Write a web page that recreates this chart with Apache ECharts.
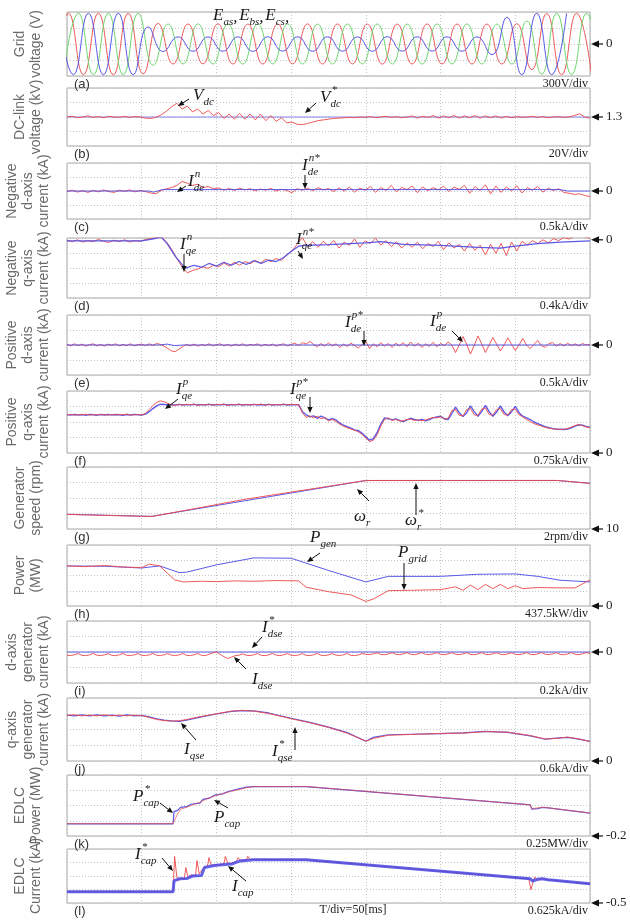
<!DOCTYPE html>
<html><head><meta charset="utf-8">
<script src="https://cdn.jsdelivr.net/npm/echarts@6/dist/echarts.min.js"></script>
<style>html,body{margin:0;padding:0;background:#fff}#c{width:630px;height:920px}</style>
</head><body><div id="c"></div>
<script>
// ---------------- DATA (time axis: 0..350 ms, 50 ms/div) ----------------
const timeTicksMs = [0, 50, 100, 150, 200, 250, 300, 350];

// (a) grid voltage [V]: successive half-cycle extrema, one every 10 ms
const gridVaT0 = -9, gridVbT0 = -2.33, gridVcT0 = -5.67;
const gridVa = [-575,575,-575,575,-575,575,-560,385,
  -375,375,-372,378,-375,374,-376,375,-373,377,-375,376,-374,375,-377,373,-375,376,-374,375,-376,374,-375,
  380,-480,570,-575,575,-575];
const gridVb = [-575,575,-575,575,-575,575,-400,
  375,-373,377,-375,374,-376,375,-374,377,-375,373,-376,375,-374,376,-375,373,-377,375,-374,376,-375,374,-375,
  430,-565,575,-575,575,-575];
const gridVc = [575,-575,575,-575,575,-575,320,-140,
  135,-137,134,-136,135,-138,136,-134,135,-137,136,-135,134,-136,137,-135,136,-134,135,-136,135,
  -200,500,-575,575,-575,575];

// (b) DC-link voltage [kV], sampled every 3.5 ms
const vdcRef = [[0,1.3],[350,1.3]];
const vdc = [1.3,1.301,1.299,1.3,1.3015,1.2995,1.3005,1.299,1.301,1.3,1.2995,1.301,1.2995,1.3005,1.3,
  1.2985,1.298,1.2995,1.303,1.308,1.314,1.319,1.311,1.315,1.307,1.311,1.304,1.309,1.302,1.306,1.298,1.304,1.297,1.305,1.297,1.304,1.296,1.304,1.295,1.302,1.294,1.299,
  1.292,1.293,1.290,1.2895,1.291,1.293,1.295,1.296,1.297,1.298,1.2985,1.299,1.2995,1.299,
  1.3,1.2995,1.3005,1.299,1.3,1.301,1.2995,1.3005,1.299,1.3,
  1.3015,1.2985,1.301,1.2995,1.302,1.2985,1.3015,1.299,1.302,1.2985,
  1.3015,1.299,1.302,1.2985,1.3015,1.299,1.3015,1.2985,1.301,1.299,
  1.3005,1.2995,1.3,1.301,1.2995,1.3005,1.299,1.3,1.3005,1.2995,
  1.3,1.302,1.3045,1.3,1.2985];

// (c) negative d-axis current [kA]
const idenRef = [[0,0],[55,0],[58,-0.04],[64,0.05],[330,0.05],[335,0],[350,0]];
const iden = [-0.02,0.03,-0.04,0.01,-0.05,0.02,-0.03,0.04,-0.02,-0.05,0.03,-0.01,0.04,-0.03,0.02,-0.02,
  -0.07,-0.1,0.02,0.08,0.12,0.2,0.34,0.28,0.2,0.24,0.12,0.16,0.08,0.11,0.03,
  0.09,0.02,0.1,0.04,0.08,0.01,0.07,0.03,0.09,0.0,0.06,0.02,-0.06,0.08,0.03,0.1,0.01,0.12,0.04,0.09,
  -0.02,0.11,0.0,0.14,-0.04,0.1,0.03,0.16,-0.05,0.12,0.02,0.2,-0.03,0.13,0.05,0.18,-0.06,0.15,0.01,0.12,
  0.04,0.17,-0.02,0.14,0.06,0.2,-0.08,0.16,0.02,0.22,-0.1,0.18,-0.05,0.15,0.0,0.19,-0.07,0.12,0.03,0.16,
  -0.04,0.1,0.02,0.08,-0.05,-0.08,-0.12,-0.1,-0.16,-0.2];

// (d) negative q-axis current [kA]
const iqenRef = [[0,-0.03],[50,-0.03],[57,0.02],[63,0.07],[67,-0.1],[72.5,-0.44],[77.5,-0.68],[80,-0.75],[85,-0.68],[90,-0.73],[95,-0.63],[100,-0.7],[105,-0.6],[110,-0.68],[115,-0.58],[120,-0.66],[125,-0.56],[130,-0.63],[135,-0.54],[140,-0.58],[145,-0.47],[150,-0.31],[155,-0.17],[160,-0.15],[175,-0.13],[200,-0.08],[210,-0.05],[225,-0.12],[250,-0.15],[275,-0.2],[290,-0.22],[300,-0.17],[315,-0.1],[330,-0.06],[350,-0.03]];
const iqen = [-0.01,-0.05,0.0,-0.06,-0.02,-0.05,0.01,-0.04,-0.07,-0.01,-0.05,0.0,-0.06,-0.02,-0.04,0.01,0.03,0.06,0.08,-0.05,
  -0.25,-0.5,-0.72,-0.88,-0.82,-0.78,-0.72,-0.76,-0.68,-0.72,-0.62,-0.7,-0.6,-0.68,-0.58,-0.64,-0.55,-0.62,-0.52,-0.58,-0.5,-0.55,-0.4,-0.3,-0.12,
  0.06,-0.18,-0.05,-0.2,-0.04,-0.16,-0.02,-0.22,-0.06,-0.15,0.02,-0.2,-0.03,-0.1,0.04,-0.14,-0.02,-0.18,-0.05,-0.22,-0.08,-0.2,-0.06,-0.24,-0.1,-0.18,-0.04,-0.26,-0.08,-0.22,-0.12,-0.3,-0.1,-0.28,-0.14,
  -0.4,-0.12,-0.36,-0.1,-0.42,-0.06,-0.3,-0.04,-0.14,-0.02,-0.1,0.0,-0.08,0.03,-0.02,0.06,0.02,0.1,0.16,0.08,0.04];

// (e) positive d-axis current [kA], sampled every 2.5 ms
const idepRef = [[0,0],[62,0],[67,0.03],[72,-0.02],[78,0],[350,0]];
const idep = [0.02,-0.03,0.04,-0.02,0.03,-0.04,0.01,0.04,-0.03,0.02,-0.04,0.03,-0.01,0.04,-0.03,0.02,-0.02,0.04,-0.03,0.01,0.03,-0.02,0.04,-0.01,0.05,0.02,
  -0.04,-0.12,-0.2,-0.22,-0.14,-0.05,0.02,-0.03,0.03,-0.04,0.02,-0.02,0.04,-0.03,0.01,
  0.04,-0.03,0.02,-0.04,0.03,-0.02,0.04,-0.03,0.02,-0.01,0.04,-0.04,0.02,-0.02,0.03,-0.04,0.01,0.04,-0.03,0.02,
  0.06,-0.02,0.08,0.03,0.12,0.02,-0.06,0.05,-0.04,0.07,-0.03,0.04,-0.08,0.03,-0.05,0.06,-0.02,-0.1,0.02,0.12,-0.12,0.04,-0.06,0.08,-0.04,0.05,-0.08,0.06,-0.03,0.08,-0.06,0.1,-0.04,0.06,-0.08,0.04,-0.05,0.09,-0.06,0.05,-0.02,
  0.1,0.0,-0.25,0.0,0.28,0.02,-0.3,-0.02,0.3,0.04,-0.25,0.0,0.25,0.03,-0.2,0.0,0.24,0.02,-0.18,0.0,0.22,0.0,-0.12,0.02,0.15,-0.02,-0.08,0.05,0.08,-0.04,0.05,-0.03,0.06,-0.02,0.04,-0.03,0.05,0.0,0.02];

// (f) positive q-axis current [kA], sampled every 2.5 ms
const iqepRef = [1.86,1.83,1.87,1.84,1.86,1.82,1.87,1.85,1.83,1.86,1.84,1.87,1.83,1.86,1.85,1.82,1.86,1.84,1.87,1.85,1.84,
  1.88,2.0,2.15,2.28,2.36,2.35,2.32,2.34,2.33,2.35,
  2.32,2.34,2.33,2.35,2.32,2.34,2.33,2.35,2.32,2.34,2.33,2.35,2.32,2.34,2.33,2.35,2.32,2.34,2.33,2.35,2.32,2.34,2.33,2.35,2.32,2.34,2.33,2.35,2.32,2.34,2.33,2.34,
  2.0,1.85,1.75,1.8,1.68,1.78,1.7,1.6,1.66,1.6,1.45,1.35,1.28,1.2,1.12,1.08,0.95,0.78,0.62,0.7,
  0.98,1.4,1.7,1.66,1.6,1.65,1.58,1.52,1.6,1.68,1.62,1.58,1.62,1.55,1.62,1.7,1.74,1.78,1.66,1.62,
  1.9,2.22,1.95,1.76,1.95,2.28,2.0,1.78,2.0,2.3,2.0,1.78,1.98,2.28,1.98,1.8,2.0,2.26,1.95,1.78,
  1.7,1.62,1.5,1.42,1.35,1.28,1.22,1.18,1.16,1.15,1.14,1.16,1.22,1.3,1.36,1.35,1.28,1.24];
const iqep = [1.84,1.87,1.83,1.86,1.85,1.88,1.83,1.86,1.84,1.87,1.85,1.83,1.87,1.84,1.86,1.85,1.88,1.83,1.85,1.86,1.84,
  1.92,2.1,2.3,2.45,2.52,2.48,2.4,2.32,2.3,2.36,
  2.31,2.36,2.33,2.37,2.3,2.35,2.32,2.37,2.31,2.35,2.34,2.37,2.3,2.35,2.33,2.37,2.31,2.36,2.32,2.35,2.34,2.37,2.3,2.36,2.32,2.35,2.33,2.37,2.31,2.36,2.34,2.35,
  1.95,1.72,1.8,1.7,1.78,1.66,1.72,1.56,1.62,1.52,1.4,1.3,1.22,1.16,1.1,1.02,0.9,0.72,0.55,0.62,
  0.88,1.3,1.62,1.7,1.58,1.62,1.55,1.56,1.62,1.64,1.58,1.6,1.56,1.6,1.66,1.72,1.7,1.76,1.64,1.68,
  2.05,2.1,1.82,1.8,2.1,2.15,1.85,1.82,2.12,2.18,1.86,1.84,2.1,2.15,1.86,1.84,2.1,2.12,1.85,1.75,
  1.62,1.52,1.42,1.36,1.3,1.24,1.2,1.17,1.15,1.14,1.15,1.18,1.25,1.33,1.38,1.32,1.26,1.22];

// (g) generator speed [rpm]
const speedRef = [[0,11.9],[50,11.66],[57,11.64],[200,16.26],[328,16.26],[350,15.9]];
const speed = [[0,11.88],[50,11.64],[57,11.62],[120,13.86],[198,16.2],[202,16.26],[328,16.27],[350,15.88]];

// (h) power [MW]
const pGen = [[0,1.15],[25,1.14],[50,1.09],[62,1.15],[75,0.96],[80,0.97],[100,1.18],[125,1.38],[150,1.37],[160,1.23],[175,1.02],[200,0.69],[215,0.85],[250,0.85],[275,0.91],[300,0.92],[315,0.85],[330,0.74],[350,0.69]];
const pGrid = [[0,1.15],[12,1.13],[25,1.16],[38,1.12],[50,1.1],[55,1.2],[62,1.15],[72,0.75],[78,0.69],[90,0.71],[100,0.7],[112,0.72],[125,0.71],[140,0.73],[155,0.72],[160,0.54],[175,0.41],[190,0.32],[200,0.13],[205,0.2],[215,0.44],[230,0.45],[250,0.47],[260,0.55],[265,0.45],[270,0.6],[275,0.47],[280,0.62],[285,0.5],[290,0.62],[295,0.5],[300,0.58],[305,0.5],[315,0.53],[330,0.52],[340,0.52],[350,0.75]];

// (i) d-axis generator current [kA], sampled every 2.5 ms
const idseRef = [[0,0],[350,0]];
const idse = [-0.042,-0.046,-0.036,-0.02,-0.043,-0.047,-0.038,-0.018,-0.041,-0.046,-0.037,-0.021,-0.044,-0.047,-0.036,-0.019,-0.042,-0.045,-0.038,-0.02,
  -0.043,-0.046,-0.037,-0.018,-0.042,-0.047,-0.036,-0.021,-0.041,-0.045,-0.038,-0.019,-0.043,-0.047,-0.036,-0.02,-0.042,-0.046,-0.03,-0.012,
  0.0,-0.03,-0.06,-0.085,-0.065,-0.048,-0.042,-0.024,
  -0.042,-0.046,-0.036,-0.02,-0.043,-0.047,-0.037,-0.019,-0.041,-0.046,-0.036,-0.021,-0.042,-0.045,-0.038,-0.02,
  -0.043,-0.046,-0.036,-0.018,-0.042,-0.047,-0.037,-0.02,-0.041,-0.045,-0.036,-0.019,-0.043,-0.046,-0.038,-0.02,
  -0.03,-0.034,-0.024,-0.008,-0.031,-0.035,-0.025,-0.007,-0.029,-0.034,-0.024,-0.009,-0.03,-0.035,-0.023,-0.008,
  -0.031,-0.034,-0.025,-0.007,-0.03,-0.035,-0.024,-0.009,-0.029,-0.034,-0.024,-0.008,-0.031,-0.035,-0.025,-0.007,
  -0.03,-0.034,-0.023,-0.008,-0.029,-0.035,-0.024,-0.009,-0.031,-0.034,-0.025,-0.008,-0.03,-0.035,-0.024,-0.007,
  -0.029,-0.034,-0.024,-0.009,-0.031,-0.035,-0.025,-0.008,-0.03,-0.034,-0.024,-0.008,-0.02];

// (j) q-axis generator current [kA]
const iqseRef = [[0,1.75],[5,1.72],[10,1.76],[15,1.72],[20,1.76],[25,1.72],[30,1.75],[35,1.71],[40,1.76],[45,1.72],[50,1.74],[55,1.68],[60,1.61],[65,1.56],[70,1.53],[75,1.51],[80,1.56],[90,1.68],[100,1.79],[110,1.89],[117.5,1.92],[125,1.91],[135,1.83],[150,1.63],[162.5,1.47],[175,1.29],[187.5,1.08],[200,0.75],[205,0.9],[215,1.0],[230,1.02],[250,1.04],[265,1.07],[280,1.13],[295,1.09],[310,0.96],[320,0.83],[327.5,0.87],[335,0.9],[342.5,0.83],[350,0.75]];
const iqse = [[0,1.74],[5,1.76],[10,1.72],[15,1.75],[20,1.72],[25,1.76],[30,1.72],[35,1.75],[40,1.72],[45,1.75],[50,1.73],[55,1.66],[60,1.58],[65,1.54],[70,1.52],[75,1.53],[80,1.58],[90,1.7],[100,1.8],[110,1.9],[117.5,1.93],[125,1.9],[135,1.81],[150,1.61],[162.5,1.46],[175,1.28],[187.5,1.06],[200,0.76],[205,0.86],[215,0.98],[230,1.01],[250,1.05],[265,1.06],[280,1.12],[295,1.1],[310,0.97],[320,0.84],[327.5,0.86],[335,0.91],[342.5,0.84],[350,0.74]];

// (k) EDLC power [MW]
const pCapRef = [[0,0],[71,0],[71.6,0.2],[74,0.22],[76,0.27],[80,0.28],[83,0.32],[86,0.33],[89,0.34],[91,0.4],[95,0.42],[99,0.47],[104,0.49],[108,0.53],[113,0.56],[120,0.6],[125,0.61],[160,0.61],[310,0.31],[311,0.24],[315,0.25],[318,0.27],[322,0.26],[350,0.175]];
const pCap = [[0,0.002],[71,0.002],[72,0.06],[74,0.16],[76,0.24],[80,0.27],[83,0.3],[86,0.33],[89,0.35],[91,0.38],[95,0.42],[99,0.46],[104,0.49],[108,0.52],[113,0.55],[120,0.59],[125,0.61],[160,0.612],[310,0.312],[311,0.25],[315,0.26],[318,0.27],[322,0.262],[350,0.177]];

// (l) EDLC current [kA]
const iCapRef = [[0,0.02],[71,0.02],[71.6,0.52],[75,0.62],[80,0.63],[84,0.75],[90,0.77],[92,1.14],[96,1.2],[100,1.25],[110,1.3],[116,1.45],[125,1.5],[160,1.5],[310,0.62],[311.5,0.52],[315,0.6],[318,0.62],[322,0.58],[350,0.39]];
const iCap = [[0,0.02],[71,0.02],[72,1.66],[73.5,0.7],[75,0.55],[76.5,0.65],[78.5,0.62],[79.5,1.14],[81,0.7],[83,0.8],[86,0.75],[87,1.46],[88.5,0.85],[91,1.1],[94,1.2],[95,1.6],[96.5,1.25],[100,1.28],[105,1.3],[106,1.66],[107.5,1.35],[110,1.32],[113.5,1.45],[114.5,1.6],[116,1.48],[120,1.5],[121,1.66],[122.5,1.52],[160,1.5],[309,0.62],[310.5,0.12],[312,0.5],[313,0.7],[315,0.55],[318,0.62],[322,0.58],[350,0.38]];

// labels
const panelLetters = ['(a)','(b)','(c)','(d)','(e)','(f)','(g)','(h)','(i)','(j)','(k)','(l)'];
const perDivLabels = ['300V/div','20V/div','0.5kA/div','0.4kA/div','0.5kA/div','0.75kA/div','2rpm/div','437.5kW/div','0.2kA/div','0.6kA/div','0.25MW/div','0.625kA/div'];
const yTitles = ['Grid\nvoltage (V)','DC-link\nvoltage (kV)','Negative\nd-axis\ncurrent (kA)','Negative\nq-axis\ncurrent (kA)','Positive\nd-axis\ncurrent (kA)','Positive\nq-axis\ncurrent (kA)','Generator\nspeed (rpm)','Power\n(MW)','d-axis\ngenerator\ncurrent (kA)','q-axis\ngenerator\ncurrent (kA)','EDLC\nPower (MW)','EDLC\nCurrent (kA)'];
const refValues = [0, 1.3, 0, 0, 0, 0, 10, 0, 0, 0, -0.2, -0.5];
const refTexts = ['0','1.3','0','0','0','0','10','0','0','0','-0.2','-0.5'];
const perDiv = [300, 0.02, 0.5, 0.4, 0.5, 0.75, 2, 0.4375, 0.2, 0.6, 0.25, 0.625];
const axisMin = [-600, 1.26, -1, -1.552, -1, 0, 10, 0, -0.4, 0, -0.2, -0.5];

// ---------------- LAYOUT ----------------
const GL = 67, GR = 590;
const boxes = [[12,76],[88,146],[163,219],[238,298],[315,375],[391,453],[467,529],[545,606],[621,683],[698,761],[775,836],[849,903]];
const RED = 'rgba(236,72,72,0.9)', BLUE = 'rgba(72,72,228,0.9)', GREEN = 'rgba(110,214,110,1)';

function stepped(vals, step){ return vals.map((v,i)=>[i*step, v]); }
function extrema(vals, t0){ return vals.map((v,k)=>[t0 + 10*k, v]); }

const grids=[], xAxes=[], yAxes=[], series=[];
boxes.forEach((b,i)=>{
  grids.push({left:GL, top:b[0], width:GR-GL, height:b[1]-b[0], show:true, borderColor:'#a8a8a8', borderWidth:1, backgroundColor:'transparent'});
  xAxes.push({type:'value', gridIndex:i, min:timeTicksMs[0], max:timeTicksMs[timeTicksMs.length-1], interval:50,
    axisLine:{show:false}, axisTick:{show:false}, axisLabel:{show:false},
    splitLine:{show:true, lineStyle:{color:'#c4c4c4', type:[1,2], width:1}}});
  yAxes.push({type:'value', gridIndex:i, min:axisMin[i], max:axisMin[i]+4*perDiv[i], interval:perDiv[i],
    axisLine:{show:false}, axisTick:{show:false}, axisLabel:{show:false},
    splitLine:{show:true, lineStyle:{color:'#c4c4c4', type:[1,2], width:1}}});
});
function addLine(i, data, color, width, smooth, z){
  series.push({type:'line', xAxisIndex:i, yAxisIndex:i, data, showSymbol:false, symbol:'none', smooth:!!smooth,
    lineStyle:{color, width:width||1}, itemStyle:{color}, z:z||2, animation:false, silent:true});
}
addLine(0, extrema(gridVa, gridVaT0), RED, 1, true);
addLine(0, extrema(gridVb, gridVbT0), GREEN, 1, true);
addLine(0, extrema(gridVc, gridVcT0), BLUE, 1, true);
addLine(1, vdcRef, 'rgba(120,120,235,0.9)', 1.2);
addLine(1, stepped(vdc, 3.5), RED, 1, false, 3);
addLine(2, stepped(iden, 3.5), RED, 1);
addLine(2, idenRef, BLUE, 1, false, 3);
addLine(3, stepped(iqen, 3.5), RED, 1);
addLine(3, iqenRef, BLUE, 1.2, false, 3);
addLine(4, stepped(idep, 2.5), RED, 1);
addLine(4, idepRef, BLUE, 1, false, 3);
addLine(5, stepped(iqepRef, 2.5), BLUE, 1.4);
addLine(5, stepped(iqep, 2.5), RED, 1, false, 3);
addLine(6, speedRef, BLUE, 1);
addLine(6, speed, RED, 1, false, 3);
addLine(7, pGen, BLUE, 1);
addLine(7, pGrid, RED, 1);
addLine(8, idseRef, BLUE, 1);
addLine(8, stepped(idse, 2.5), RED, 1, false, 3);
addLine(9, iqseRef, BLUE, 1.2);
addLine(9, iqse, RED, 1, false, 3);
addLine(10, pCapRef, BLUE, 1.2);
addLine(10, pCap, 'rgba(236,72,72,0.7)', 1, false, 3);
addLine(11, iCap, RED, 1);
addLine(11, iCapRef, 'rgba(72,72,228,0.85)', 3, false, 3);

const chart = echarts.init(document.getElementById('c'), null, {renderer:'canvas'});
chart.setOption({animation:false, backgroundColor:'#fff', grid:grids, xAxis:xAxes, yAxis:yAxes, series});

// ---------------- TEXT & ANNOTATIONS ----------------
const mctx = document.createElement('canvas').getContext('2d');
function tw(s, font){ mctx.font = font; return mctx.measureText(s).width; }
const G = [];
function txt(x,y,s,font,extra){ G.push(Object.assign({type:'text', x, y, z:100, silent:true,
  style:{text:s, font, fill:'#1a1a1a', align:'left', verticalAlign:'middle'}}, extra||{})); }
function arrow(x1,y1,x2,y2){
  const a=Math.atan2(y2-y1,x2-x1), L=6, H=2.6;
  const bx=x2-L*Math.cos(a), by=y2-L*Math.sin(a);
  G.push({type:'line', z:100, silent:true, shape:{x1,y1,x2:bx,y2:by}, style:{stroke:'#111', lineWidth:1}});
  G.push({type:'polygon', z:100, silent:true, shape:{points:[[x2,y2],[bx+H*Math.sin(a), by-H*Math.cos(a)],[bx-H*Math.sin(a), by+H*Math.cos(a)]]}, style:{fill:'#111'}});
}
const FM = 'italic 17px "Liberation Serif"', FS = 'italic 11px "Liberation Serif"';
function sym(x,y,main,sub,sup){
  txt(x,y,main,FM);
  const w = tw(main,FM);
  if(sub) txt(x+w, y+6, sub, FS);
  if(sup) txt(x+w+1, y-8, sup, FS);
  return x + w + Math.max(sub?tw(sub,FS):0, sup?tw(sup,FS)+1:0);
}

boxes.forEach((b,i)=>{
  const cy=(b[0]+b[1])/2;
  G.push({type:'text', x:28, y:cy, rotation:Math.PI/2, z:100, silent:true,
    style:{text:yTitles[i], font:'14px "Liberation Sans"', fill:'#6a6a6a', align:'center', verticalAlign:'middle', lineHeight:16}});
  txt(74, b[1]+8, panelLetters[i], '13px "Liberation Sans"', {style:{text:panelLetters[i], font:'13px "Liberation Sans"', fill:'#333', align:'left', verticalAlign:'middle'}});
  G.push({type:'text', x:588, y:b[1]+8, z:100, silent:true, style:{text:perDivLabels[i], font:'12px "Liberation Serif"', fill:'#222', align:'right', verticalAlign:'middle'}});
  const py = chart.convertToPixel({gridIndex:i}, [350, refValues[i]])[1];
  G.push({type:'polygon', z:100, silent:true, shape:{points:[[591,py],[599,py-3.5],[599,py+3.5]]}, style:{fill:'#111'}});
  G.push({type:'line', z:100, silent:true, shape:{x1:598,y1:py,x2:603,y2:py}, style:{stroke:'#111', lineWidth:1.2}});
  G.push({type:'text', x:606, y:py, z:100, silent:true, style:{text:refTexts[i], font:'13px "Liberation Serif"', fill:'#222', align:'left', verticalAlign:'middle'}});
});
G.push({type:'text', x:353, y:910, z:100, silent:true, style:{text:'T/div=50[ms]', font:'12px "Liberation Serif"', fill:'#222', align:'center', verticalAlign:'middle'}});

// (a)
let ex = sym(213,16,'E','as'); txt(ex,18,', ',FM); ex = sym(ex+6,16,'E','bs'); txt(ex,18,', ',FM); ex = sym(ex+6,16,'E','cs'); txt(ex,18,',',FM);
// (b)
sym(193,96,'V','dc'); arrow(189,99,178,106);
sym(320,98,'V','dc','*'); arrow(316,103,305,113);
// (c)
sym(188,182,'I','de','n'); arrow(186,186,177,192);
sym(302,166,'I','de','n*'); arrow(305,175,305,189);
// (d)
sym(180,245,'I','qe','n'); arrow(184,254,184,272);
sym(296,240,'I','qe','n*'); arrow(298,251,303,259);
// (e)
sym(345,323,'I','de','p*'); arrow(364,331,364,346);
sym(430,322,'I','de','p'); arrow(452,331,463,342);
// (f)
sym(176,390,'I','qe','p'); arrow(178,399,165,409);
sym(290,390,'I','qe','p*'); arrow(310,397,310,413);
// (g)
sym(354,517,'ω','r'); arrow(369,501,357,489);
sym(405,521,'ω','r','*'); arrow(416,515,416,483);
// (h)
sym(310,538,'P','gen'); arrow(320,553,307,562);
sym(398,553,'P','grid'); arrow(404,563,404,590);
// (i)
sym(262,628,'I','dse','*'); arrow(262,637,252,648);
sym(252,680,'I','dse'); arrow(246,669,234,657);
// (j)
sym(184,750,'I','qse'); arrow(196,740,181,723);
sym(272,752,'I','qse','*'); arrow(295,750,295,727);
// (k)
sym(133,797,'P','cap','*'); arrow(160,803,173,813);
sym(214,818,'P','cap'); arrow(228,808,214,800);
// (l)
sym(135,855,'I','cap','*'); arrow(162,858,173,871);
sym(232,887,'I','cap'); arrow(246,881,228,866);

chart.setOption({graphic: G});
</script>
</body></html>
